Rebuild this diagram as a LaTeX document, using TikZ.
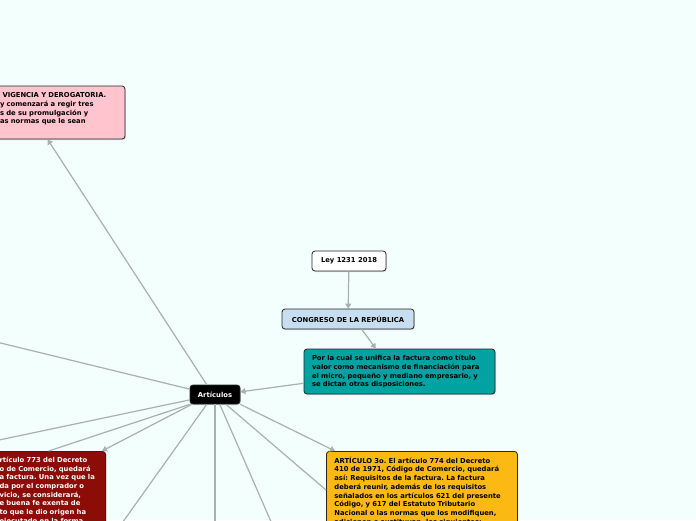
\documentclass[tikz,border=0pt]{standalone}
\usepackage{fontspec}
\setmainfont{DejaVu Sans}
\usetikzlibrary{arrows.meta,positioning,calc,shadows}
\definecolor{bgmint}{RGB}{243,255,252}
\definecolor{linkgray}{RGB}{168,176,176}
\definecolor{congblue}{RGB}{198,222,240}
\definecolor{tealbox}{RGB}{0,162,162}
\definecolor{pinkbox}{RGB}{255,196,206}
\definecolor{redbox}{RGB}{140,12,8}
\definecolor{orangebox}{RGB}{253,185,19}

\begin{document}
\begin{tikzpicture}[
  x=1pt,y=-1pt,
  box/.style={draw=black!85, rounded corners=3pt, line width=0.8pt, font=\fontsize{6.8}{8.7}\selectfont\bfseries\frenchspacing, inner ysep=4pt, drop shadow={shadow xshift=0.8pt, shadow yshift=-1pt, opacity=0.3}},
  textbox/.style={box, align=left, text width=#1, inner xsep=8pt},
  link/.style={draw=linkgray, line width=1.2pt},
  arr/.style={link, -{Triangle[length=5pt,width=6pt]}}
]
\fill[bgmint] (0,0) rectangle (696,520);
\useasboundingbox (0,0) rectangle (696,520);
\clip (0,0) rectangle (696,520);

\node[box, fill=white, minimum width=74pt, minimum height=20pt] (ley) at (349,261) {Ley 1231 2018};
\node[box, fill=congblue, minimum width=132pt, minimum height=20pt] (congreso) at (348,319) {CONGRESO DE LA REPÚBLICA};
\node[textbox=175pt, fill=tealbox, minimum height=45pt] (objeto) at (399.5,371.5) {\strut Por la cual se unifica la factura como título\\ valor como mecanismo de financiación para\\ el micro, pequeño y mediano empresario, y\\ se dictan otras disposiciones.};
\node[box, fill=black, text=white, minimum width=50pt, minimum height=19pt] (art) at (215,394.5) {Artículos};
\node[textbox=117pt, fill=pinkbox, minimum height=53pt] (vigencia) at (58.5,112.5) {\hspace*{2.5pt}VIGENCIA Y DEROGATORIA.\\ y comenzará a regir tres\\ s de su promulgación y\\ as normas que le sean\\ \mbox{}};
\node[textbox=98pt, fill=redbox, text=white, anchor=north east, inner ysep=5.5pt] (art2) at (106,451) {rtículo 773 del Decreto\\ o de Comercio, quedará\\ a factura. Una vez que la\\ da por el comprador o\\ vicio, se considerará,\\ e buena fe exenta de\\ to que le dio origen ha\\ ejecutado en la forma};
\node[textbox=175pt, fill=orangebox, anchor=north west, inner ysep=5.5pt] (art3) at (326,451) {ARTÍCULO 3o. El artículo 774 del Decreto\\ 410 de 1971, Código de Comercio, quedará\\ así: Requisitos de la factura. La factura\\ deberá reunir, además de los requisitos\\ señalados en los artículos 621 del presente\\ Código, y 617 del Estatuto Tributario\\ Nacional o las normas que los modifiquen,\\ adicionen o sustituyan, los siguientes:};

\coordinate (offA) at (-20,338);
\coordinate (offB) at (-20,444);
\coordinate (offC) at (110,540);
\coordinate (offD) at (215,540);
\coordinate (offE) at (279,540);

\draw[arr] (ley) -- (congreso);
\draw[arr] (congreso.-37.6) -- (objeto.136);
\draw[arr] (objeto.187) -- (art.6);
\draw[arr] (art.130) -- (vigencia.248);
\foreach \a/\b in {168/offA,192/offB,230/offC,270/offD,296/offE}{\draw[link] (art.\a) -- (\b);}
\draw[link] (art.south west) -- (art2.north);
\draw[arr] (art.203) -- ($(art2.north east)+(-4,0)$);
\draw[link] (art.318) -- ($(art3.north west)+(0,39)$);
\draw[arr] (art.south east) -- ($(art3.north west)+(9,0)$);
\end{tikzpicture}
\end{document}
